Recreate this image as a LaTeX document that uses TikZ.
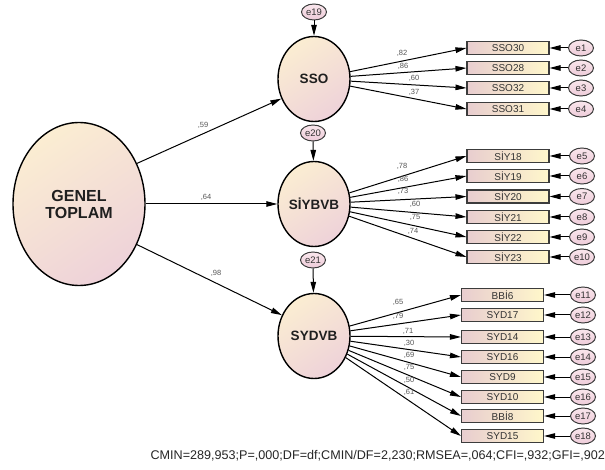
\documentclass[tikz,border=0pt]{standalone}
\usepackage{fontspec}
\setmainfont{Liberation Sans}
\usetikzlibrary{arrows.meta,shapes.geometric}
\definecolor{lyel}{HTML}{FBEDD2}
\definecolor{lpink}{HTML}{EED2D9}
\definecolor{bpink}{HTML}{E8CDCF}
\definecolor{byel}{HTML}{FFF7CB}
\definecolor{etop}{HTML}{F9E6EC}
\definecolor{ebot}{HTML}{EECCD9}
\definecolor{txt}{HTML}{333333}
\definecolor{lblc}{HTML}{555555}
\definecolor{boxd}{HTML}{3C3C3C}
\begin{document}
\begin{tikzpicture}[x=1pt,y=-1pt,
  latent/.style={ellipse, draw=black, line width=1.4pt, inner sep=0pt,
    top color=lyel, bottom color=lpink, shading angle=35,
    minimum width=72pt, minimum height=85pt,
    font=\fontsize{13.5}{15}\selectfont\bfseries, text=black!88},
  obs/.style={rectangle, draw=boxd, line width=1.1pt, inner sep=0pt,
    left color=bpink, right color=byel,
    minimum width=82pt, minimum height=13pt,
    font=\fontsize{10}{11}\selectfont, text=txt},
  err/.style={ellipse, draw=boxd, line width=1pt, inner sep=0pt,
    top color=etop, bottom color=ebot,
    minimum width=25pt, minimum height=16pt,
    font=\fontsize{9.5}{10}\selectfont, text=txt},
  arr/.style={-{Triangle[length=11pt,width=5.5pt]}, line width=1pt, black},
  lbl/.style={inner sep=0pt, font=\fontsize{7.5}{8}\selectfont, text=lblc}
]
\useasboundingbox (0,0) rectangle (605,470);

% latent variables
\node[latent, minimum width=132pt, minimum height=163pt, align=center,
  font=\fontsize{16}{17}\selectfont\bfseries] (gt) at (79,204) {GENEL\\TOPLAM};
\node[latent] (sso) at (314,79) {SSO};
\node[latent] (sia) at (314,204) {SİYBVB};
\node[latent] (syd) at (314,336) {SYDVB};

% disturbances
\node[err] (e19) at (314,12) {e19};
\node[err] (e20) at (313,133) {e20};
\node[err] (e21) at (313,260) {e21};
\draw[arr] (e19) -- (sso);
\draw[arr] (e20) -- (sia);
\draw[arr] (e21) -- (syd);

% structural paths
\draw[arr] (gt.35) -- (sso.211);
\draw[arr] (gt) -- (sia);
\draw[arr] (gt.325) -- (syd.147);
\node[lbl] (l59) at (203,125) {,59};
\node[lbl] (l64) at (206,197) {,64};
\node[lbl] (l98) at (216,273) {,98};

% SSO indicators
\foreach \n/\t/\y in {1/SSO30/48, 2/SSO28/68, 3/SSO32/88, 4/SSO31/109} {
  \node[obs] (b\n) at (508,\y) {\t};
  \node[err] (e\n) at (581,\y) {e\n};
  \draw[arr] (e\n) -- (b\n);
  \draw[arr] (sso) -- (b\n.west);
}
% SIYBVB indicators
\foreach \n/\t/\y in {5/SİY18/156, 6/SİY19/176, 7/SİY20/196.5, 8/SİY21/217, 9/SİY22/237, 10/SİY23/257} {
  \node[obs] (b\n) at (508,\y) {\t};
  \node[err] (e\n) at (582,\y) {e\n};
  \draw[arr] (e\n) -- (b\n);
  \draw[arr] (sia) -- (b\n.west);
}
% SYDVB indicators
\foreach \n/\t/\y in {11/BBİ6/295, 12/SYD17/315, 13/SYD14/337, 14/SYD16/357, 15/SYD9/377, 16/SYD10/397, 17/BBİ8/416, 18/SYD15/436} {
  \node[obs] (b\n) at (502.5,\y) {\t};
  \node[err] (e\n) at (583,\y) {e\n};
  \draw[arr] (e\n) -- (b\n);
  \draw[arr] (syd) -- (b\n.west);
}

% loadings
\node[lbl] (k1) at (402,53) {,82};
\node[lbl] (k2) at (403,66) {,86};
\node[lbl] (k3) at (414,78) {,60};
\node[lbl] (k4) at (414,92) {,37};
\node[lbl] (k5) at (402,166) {,78};
\node[lbl] (k6) at (403,179) {,86};
\node[lbl] (k7) at (403,191) {,73};
\node[lbl] (k8) at (415,204) {,60};
\node[lbl] (k9) at (415,217) {,75};
\node[lbl] (k10) at (413,231) {,74};
\node[lbl] (k11) at (398,302) {,65};
\node[lbl] (k12) at (398,316) {,79};
\node[lbl] (k13) at (408,331) {,71};
\node[lbl] (k14) at (409,343) {,30};
\node[lbl] (k15) at (409,355) {,69};
\node[lbl] (k16) at (409,367) {,75};
\node[lbl] (k17) at (409,380) {,50};
\node[lbl] (k18) at (409,392) {,61};

% fit statistics
\node[anchor=base east, inner sep=0pt, font=\fontsize{12.6}{14}\selectfont, text=black!85]
  (fit) at (605,459.5) {CMIN=289,953;P=,000;DF=df;CMIN/DF=2,230;RMSEA=,064;CFI=,932;GFI=,902};
\end{tikzpicture}
\end{document}
